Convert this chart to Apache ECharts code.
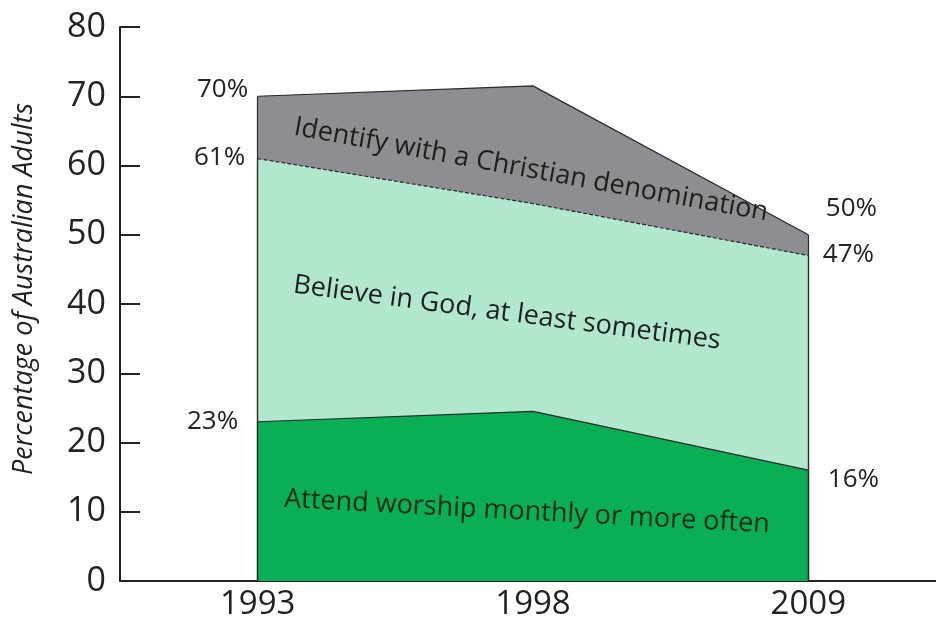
<!DOCTYPE html>
<html>
<head>
<meta charset="utf-8">
<title>Religion in Australia</title>
<script src="https://cdn.jsdelivr.net/npm/echarts@6/dist/echarts.min.js"></script>
<style>
  html, body { margin: 0; padding: 0; background: #fff; }
  #chart { width: 936px; height: 623px; }
</style>
</head>
<body>
<div id="chart"></div>
<script>
// Survey years
const years = ['1993', '1998', '2009'];
// Cumulative shares of Australian adults (%), each band drawn from 0 up to its total
const identifyTotal = [70, 71.5, 50];   // identify with a Christian denomination
const believeTotal  = [61, 54.5, 47];   // believe in God, at least sometimes
const attendTotal   = [23, 24.5, 16];   // attend worship monthly or more often
// Y axis
const yTicks = { min: 0, max: 80, step: 10 };

const FONT = '"Open Sans", "Noto Sans", sans-serif';
const INK = '#222';

// end-point value labels: [dx, dy] from the point, left side for 1993, right side for 2009
function withEndLabels(values, leftPos, rightPos) {
  return values.map((v, i) => {
    const item = { value: v };
    const first = i === 0;
    const lastPt = i === values.length - 1;
    if (first || lastPt) {
      item.label = {
        show: true,
        position: first ? leftPos : rightPos,
        align: first ? 'right' : 'left',
        verticalAlign: 'middle',
        formatter: (p) => p.value + '%',
        color: INK,
        fontSize: 26,
        fontFamily: FONT
      };
    }
    return item;
  });
}

function band(name, values, color, edgeStyle, leftPos, rightPos, z) {
  const last = values.length - 1;
  return {
    name: name,
    type: 'line',
    z: z,
    data: withEndLabels(values, leftPos, rightPos),
    symbol: 'circle',
    symbolSize: 1,
    showSymbol: true,
    itemStyle: { color: 'rgba(0,0,0,0)' },
    lineStyle: Object.assign({ color: '#2a2a2a', width: 1.2 }, edgeStyle),
    areaStyle: { color: color, opacity: 1, origin: 'start' },
    emphasis: { disabled: true },
    labelLayout: { hideOverlap: false },
    markLine: {
      silent: true,
      symbol: 'none',
      label: { show: false },
      lineStyle: { color: '#2a2a2a', width: 1.2, type: 'solid' },
      data: [
        [{ coord: [years[0], 0] }, { coord: [years[0], values[0]] }],
        [{ coord: [years[last], 0] }, { coord: [years[last], values[last]] }]
      ]
    }
  };
}

function bandText(text, x, y, deg, fill) {
  return {
    type: 'text', x: x, y: y, rotation: -deg * Math.PI / 180, z: 100,
    style: {
      text: text, fill: fill, fontSize: 27, fontFamily: FONT,
      align: 'center', verticalAlign: 'middle'
    }
  };
}

const chart = echarts.init(document.getElementById('chart'), null, { renderer: 'canvas' });

chart.setOption({
  backgroundColor: '#fff',
  animation: false,
  grid: {
    left: 120, top: 27, width: 826, height: 554,
    containLabel: false, outerBoundsMode: 'none'
  },
  xAxis: {
    type: 'category',
    data: years,
    boundaryGap: true,
    axisLine: { lineStyle: { color: INK, width: 2 } },
    axisTick: { show: false },
    axisLabel: { color: INK, fontSize: 33, fontFamily: FONT, margin: 7 },
    splitLine: { show: false }
  },
  yAxis: {
    type: 'value',
    min: yTicks.min,
    max: yTicks.max,
    interval: yTicks.step,
    axisLine: { show: true, lineStyle: { color: INK, width: 2 } },
    axisTick: { show: true, inside: true, length: 20, lineStyle: { color: INK, width: 2 } },
    axisLabel: { color: INK, fontSize: 34, fontFamily: FONT, margin: 14 },
    splitLine: { show: false }
  },
  series: [
    band('Identify with a Christian denomination', identifyTotal, '#8e8e92', {},
      [-9, -6], [18, -26], 2),
    band('Believe in God, at least sometimes', believeTotal, '#b1e7cd', { type: [4, 2] },
      [-12, 0], [15, 0], 3),
    band('Attend worship monthly or more often', attendTotal, '#0aae55', {},
      [-19, 0], [20, 10], 4)
  ],
  graphic: [
    {
      type: 'text', x: 24, y: 289, rotation: Math.PI / 2, z: 100,
      style: {
        text: 'Percentage of Australian Adults',
        fill: INK, fontSize: 27, fontStyle: 'italic', fontFamily: FONT,
        align: 'center', verticalAlign: 'middle'
      }
    },
    bandText('Identify with a Christian denomination', 531, 170, 10.3, '#1e1e1e'),
    bandText('Believe in God, at least sometimes', 507, 313, 7.5, '#1e1e1e'),
    bandText('Attend worship monthly or more often', 527, 512, 3, '#0d2a17')
  ]
});
</script>
</body>
</html>
